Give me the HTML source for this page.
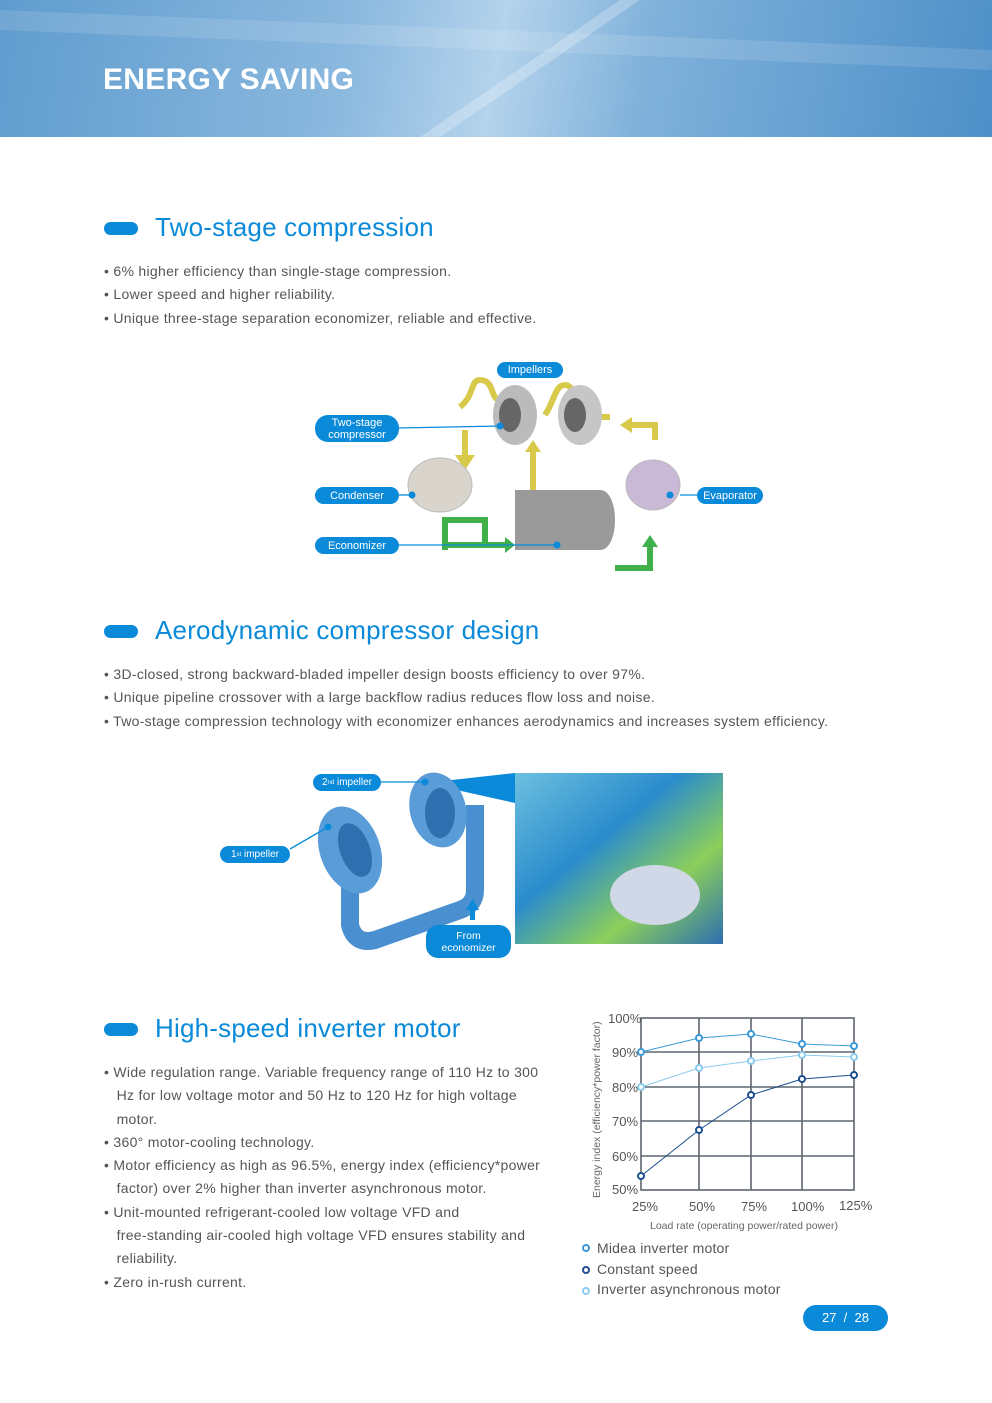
<!DOCTYPE html>
<html><head><meta charset="utf-8">
<style>
*{margin:0;padding:0;box-sizing:border-box}
body{width:992px;height:1403px;position:relative;background:#fff;font-family:"Liberation Sans",sans-serif;overflow:hidden;color:#555}
.a{position:absolute;white-space:nowrap}
.hdr{left:0;top:0;width:992px;height:137px;background:linear-gradient(100deg,#5f9cce 0%,#8ab8de 35%,#b4d3ec 50%,#7fb1da 65%,#4d8fc8 100%)}
.pill{position:absolute;width:34px;height:13px;border-radius:7px;background:#0a8ad8}
h2{position:absolute;font-size:26px;font-weight:normal;color:#0a8ad8;white-space:nowrap;letter-spacing:0.2px}
.b{position:absolute;font-size:14px;letter-spacing:0.3px;color:#555;white-space:nowrap;line-height:23.3px}
.lab{position:absolute;background:#0a8ad8;color:#fff;font-size:11px;border-radius:9px;text-align:center;line-height:12px;display:flex;align-items:center;justify-content:center}
.tk{position:absolute;font-size:13px;color:#555}
</style></head><body>
<div class="a hdr"></div>
<svg class="a" style="left:0;top:0" width="992" height="137">
<path d="M420 137 L620 0 L640 0 L440 137Z" fill="#fff" opacity="0.25"/>
<path d="M0 20 L992 60" stroke="#fff" stroke-opacity="0.12" stroke-width="20"/>
</svg>
<div class="a" style="left:103px;top:63px;font-size:30px;font-weight:bold;color:#fff;letter-spacing:0.3px">ENERGY SAVING</div>

<div class="pill" style="left:104px;top:222px"></div>
<h2 style="left:155px;top:212px">Two-stage compression</h2>
<div class="b" style="left:104px;top:260px">• 6% higher efficiency than single-stage compression.<br>• Lower speed and higher reliability.<br>• Unique three-stage separation economizer, reliable and effective.</div>

<svg class="a" style="left:300px;top:355px" width="480" height="230">
<g fill="none" stroke="#d9c94a" stroke-width="6">
<path d="M165 75 L165 105 M160 52 C175 40 170 25 180 25 C195 25 190 45 200 45"/>
<path d="M330 70 L355 70 L355 85"/>
<path d="M233 135 L233 95"/>
<path d="M245 60 C255 45 255 30 265 30 C275 30 275 50 285 50"/>
<path d="M290 62 L310 62"/>
</g>
<polygon points="155,100 175,100 165,115" fill="#d9c94a"/>
<polygon points="233,85 225,97 241,97" fill="#d9c94a"/>
<polygon points="320,70 332,62 332,78" fill="#d9c94a"/>
<ellipse cx="215" cy="60" rx="22" ry="30" fill="#bbb"/><ellipse cx="210" cy="60" rx="11" ry="17" fill="#666"/>
<ellipse cx="280" cy="60" rx="22" ry="30" fill="#c6c6c6"/><ellipse cx="275" cy="60" rx="11" ry="17" fill="#666"/>
<ellipse cx="140" cy="130" rx="32" ry="27" fill="#d9d4cc" stroke="#bbb"/>
<ellipse cx="353" cy="130" rx="27" ry="25" fill="#c9b8d6" stroke="#bbb"/>
<path d="M215 135 L300 135 C320 135 320 195 300 195 L215 195Z" fill="#9a9a9a"/>
<g fill="none" stroke="#3fb04a" stroke-width="6"><path d="M145 195 L145 165 L185 165 L185 192 M145 190 L205 190"/><path d="M315 213 L350 213 L350 190"/></g>
<polygon points="205,182 215,190 205,198" fill="#3fb04a"/><polygon points="342,192 358,192 350,180" fill="#3fb04a"/>
<g stroke="#0a8ad8" stroke-width="1.3"><line x1="98" y1="73" x2="200" y2="71"/><line x1="98" y1="140" x2="112" y2="140"/><line x1="98" y1="190" x2="257" y2="190"/><line x1="380" y1="140" x2="398" y2="140"/></g>
<g fill="#0a8ad8"><circle cx="200" cy="71" r="3.5"/><circle cx="112" cy="140" r="3.5"/><circle cx="257" cy="190" r="3.5"/><circle cx="370" cy="140" r="3.5"/></g>
</svg>
<div class="lab" style="left:497px;top:362px;width:66px;height:16px">Impellers</div>
<div class="lab" style="left:315px;top:415px;width:84px;height:27px;border-radius:13px;font-size:11px">Two-stage<br>compressor</div>
<div class="lab" style="left:315px;top:487px;width:84px;height:17px">Condenser</div>
<div class="lab" style="left:315px;top:537px;width:84px;height:17px">Economizer</div>
<div class="lab" style="left:697px;top:487px;width:66px;height:17px">Evaporator</div>

<div class="pill" style="left:104px;top:625px"></div>
<h2 style="left:155px;top:615px">Aerodynamic compressor design</h2>
<div class="b" style="left:104px;top:663px">• 3D-closed, strong backward-bladed impeller design boosts efficiency to over 97%.<br>• Unique pipeline crossover with a large backflow radius reduces flow loss and noise.<br>• Two-stage compression technology with economizer enhances aerodynamics and increases system efficiency.</div>

<svg class="a" style="left:210px;top:765px" width="520" height="200">
<defs><linearGradient id="cfd" x1="0" y1="0" x2="1" y2="1"><stop offset="0" stop-color="#6cc0e0"/><stop offset="0.4" stop-color="#2a8ccc"/><stop offset="0.7" stop-color="#8ccf5a"/><stop offset="1" stop-color="#2d6fb0"/></linearGradient></defs>
<rect x="305" y="8" width="208" height="171" fill="url(#cfd)"/>
<ellipse cx="445" cy="130" rx="45" ry="30" fill="#d0d8e8"/>
<polygon points="215,18 305,8 305,38" fill="#0a8ad8"/>
<path d="M140 60 L140 160 Q145 180 165 175 L250 145 Q265 140 265 125 L265 40" fill="none" stroke="#4a8fd0" stroke-width="18"/>
<ellipse cx="140" cy="85" rx="30" ry="45" fill="#5a9cd8" transform="rotate(-20 140 85)"/>
<ellipse cx="145" cy="85" rx="15" ry="28" fill="#2f6fb0" transform="rotate(-20 145 85)"/>
<ellipse cx="228" cy="45" rx="28" ry="38" fill="#5a9cd8" transform="rotate(-15 228 45)"/>
<ellipse cx="230" cy="48" rx="15" ry="25" fill="#2f6fb0"/>
<rect x="260" y="143" width="5" height="12" fill="#0a8ad8"/><polygon points="256,145 269,145 262.5,134" fill="#0a8ad8"/>
<g stroke="#0a8ad8" stroke-width="1.3"><line x1="170" y1="17" x2="215" y2="17"/><line x1="80" y1="84" x2="118" y2="62"/></g>
<g fill="#0a8ad8"><circle cx="215" cy="17" r="3.5"/><circle cx="118" cy="62" r="3.5"/></g>
</svg>
<div class="lab" style="left:313px;top:774px;width:68px;height:17px;font-size:10px">2<sup style="font-size:6px">nd</sup>&nbsp;impeller</div>
<div class="lab" style="left:220px;top:846px;width:70px;height:17px;font-size:10px">1<sup style="font-size:6px">st</sup>&nbsp;impeller</div>
<div class="lab" style="left:426px;top:925px;width:85px;height:33px;border-radius:12px;font-size:10.5px">From<br>economizer</div>

<div class="pill" style="left:104px;top:1023px"></div>
<h2 style="left:155px;top:1013px">High-speed inverter motor</h2>
<div class="b" style="left:104px;top:1061px">• Wide regulation range. Variable frequency range of 110 Hz to 300<br>&nbsp;&nbsp;&nbsp;Hz for low voltage motor and 50 Hz to 120 Hz for high voltage<br>&nbsp;&nbsp;&nbsp;motor.<br>• 360° motor-cooling technology.<br>• Motor efficiency as high as 96.5%, energy index (efficiency*power<br>&nbsp;&nbsp;&nbsp;factor) over 2% higher than inverter asynchronous motor.<br>• Unit-mounted refrigerant-cooled low voltage VFD and<br>&nbsp;&nbsp;&nbsp;free-standing air-cooled high voltage VFD ensures stability and<br>&nbsp;&nbsp;&nbsp;reliability.<br>• Zero in-rush current.</div>

<svg class="a" style="left:0;top:0" width="992" height="1403">
<g stroke="#5f6670" stroke-width="1.6" fill="none">
<rect x="641" y="1018" width="213" height="172"/>
<line x1="699" y1="1018" x2="699" y2="1190"/><line x1="751" y1="1018" x2="751" y2="1190"/><line x1="802" y1="1018" x2="802" y2="1190"/>
<line x1="641" y1="1052" x2="854" y2="1052"/><line x1="641" y1="1087" x2="854" y2="1087"/><line x1="641" y1="1121" x2="854" y2="1121"/><line x1="641" y1="1156" x2="854" y2="1156"/>
</g>
<polyline points="641,1087 699,1068 751,1061 802,1055 854,1057" fill="none" stroke="#8ccbee" stroke-width="1"/>
<polyline points="641,1052 699,1038 751,1034 802,1044 854,1046" fill="none" stroke="#3a9ad8" stroke-width="1"/>
<polyline points="641,1176 699,1130 751,1095 802,1079 854,1075" fill="none" stroke="#1d4f8e" stroke-width="1"/>
<g fill="#fff" stroke-width="2">
<g stroke="#8ccbee"><circle cx="641" cy="1087" r="3"/><circle cx="699" cy="1068" r="3"/><circle cx="751" cy="1061" r="3"/><circle cx="802" cy="1055" r="3"/><circle cx="854" cy="1057" r="3"/><circle cx="586" cy="1291" r="3"/></g>
<g stroke="#3a9ad8"><circle cx="641" cy="1052" r="3"/><circle cx="699" cy="1038" r="3"/><circle cx="751" cy="1034" r="3"/><circle cx="802" cy="1044" r="3"/><circle cx="854" cy="1046" r="3"/><circle cx="586" cy="1248" r="3"/></g>
<g stroke="#1d4f8e"><circle cx="641" cy="1176" r="3"/><circle cx="699" cy="1130" r="3"/><circle cx="751" cy="1095" r="3"/><circle cx="802" cy="1079" r="3"/><circle cx="854" cy="1075" r="3"/><circle cx="586" cy="1270" r="3"/></g>
</g>
<text transform="translate(600,1198) rotate(-90)" font-family="Liberation Sans" font-size="10.5" fill="#666">Energy index (efficiency*power factor)</text>
</svg>
<div class="tk" style="left:608px;top:1011px">100%</div>
<div class="tk" style="left:612px;top:1045px">90%</div>
<div class="tk" style="left:612px;top:1080px">80%</div>
<div class="tk" style="left:612px;top:1114px">70%</div>
<div class="tk" style="left:612px;top:1149px">60%</div>
<div class="tk" style="left:612px;top:1182px">50%</div>
<div class="tk" style="left:632px;top:1199px">25%</div>
<div class="tk" style="left:689px;top:1199px">50%</div>
<div class="tk" style="left:741px;top:1199px">75%</div>
<div class="tk" style="left:791px;top:1199px">100%</div>
<div class="tk" style="left:839px;top:1198px">125%</div>
<div class="a" style="left:650px;top:1220px;font-size:10.5px;color:#666">Load rate (operating power/rated power)</div>
<div class="a" style="left:597px;top:1240px;font-size:14px;letter-spacing:0.2px;color:#555">Midea inverter motor</div>
<div class="a" style="left:597px;top:1261px;font-size:14px;letter-spacing:0.2px;color:#555">Constant speed</div>
<div class="a" style="left:597px;top:1281px;font-size:14px;letter-spacing:0.2px;color:#555">Inverter asynchronous motor</div>
<div class="a" style="left:803px;top:1305px;width:85px;height:26px;border-radius:13px;background:#0a8ad8;color:#fff;font-size:13px;text-align:center;line-height:26px">27 &nbsp;/ &nbsp;28</div>
</body></html>
